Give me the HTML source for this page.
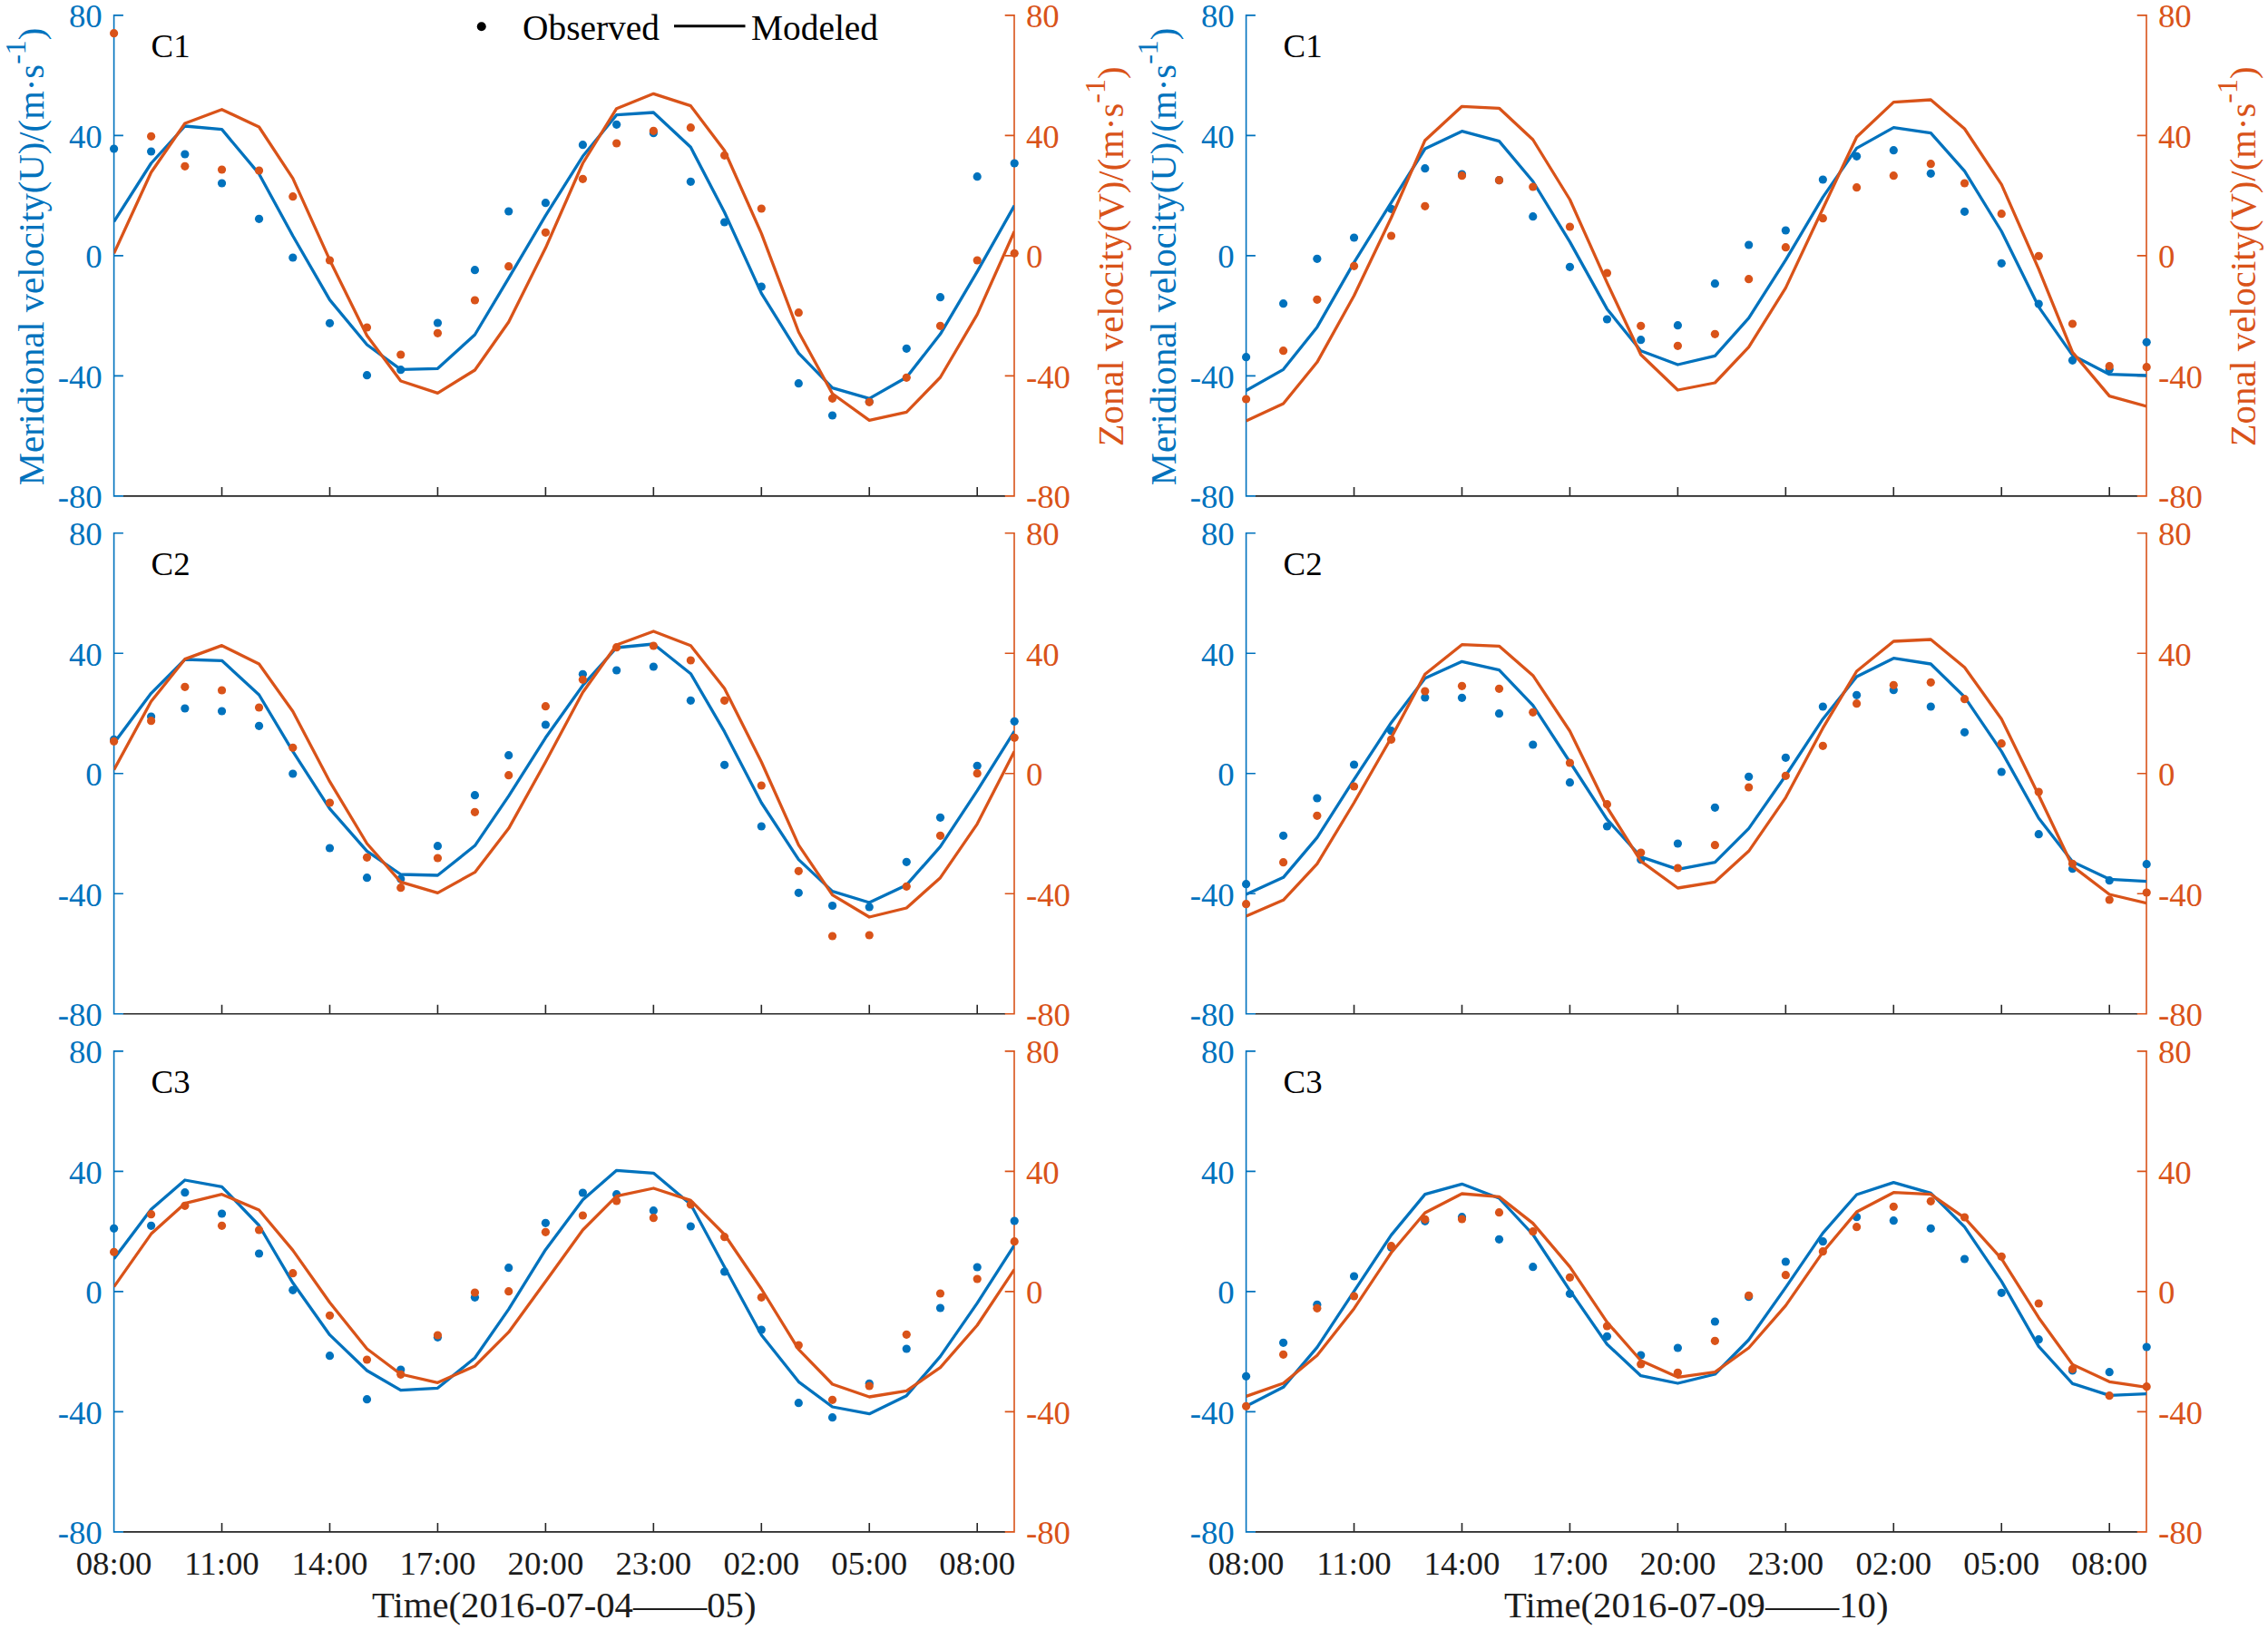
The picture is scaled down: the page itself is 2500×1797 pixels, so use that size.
<!DOCTYPE html>
<html lang="en"><head><meta charset="utf-8"><title>Observed and modeled tidal current velocity</title>
<style>html,body{margin:0;padding:0;background:#fff}body{width:2500px;height:1797px;overflow:hidden}svg{display:block}
text{font-family:"Liberation Serif",serif}
.t{font-size:36.8px}.l{font-size:40.7px}.g{font-size:39.4px}
.b{fill:#0072BD}.o{fill:#D95319}.k{fill:#000}.d{fill:#1c1c1c}
.ax{fill:none;stroke-width:1.6}.ln{fill:none;stroke-width:3.3;stroke-linejoin:round}
</style></head><body>
<svg width="2500" height="1797" viewBox="0 0 2500 1797">
<rect width="2500" height="1797" fill="#fff"/>
<g>
<path class="ax" stroke="#262626" d="M135.6 546.9H1108M244.55 547.7v-10.8M363.5 547.7v-10.8M482.45 547.7v-10.8M601.4 547.7v-10.8M720.35 547.7v-10.8M839.3 547.7v-10.8M958.25 547.7v-10.8M1077.2 547.7v-10.8"/>
<path class="ax" stroke="#0072BD" d="M125.6 16.1V547.7M125.6 16.9h10.3M125.6 149.4h10.3M125.6 281.9h10.3M125.6 414.4h10.3M125.6 546.9h10.3"/>
<path class="ax" stroke="#D95319" d="M1118 16.1V547.7M1118 16.9h-10.3M1118 149.4h-10.3M1118 281.9h-10.3M1118 414.4h-10.3M1118 546.9h-10.3"/>
<clipPath id="c00"><rect x="125.6" y="16.9" width="992.4" height="530"/></clipPath>
<g class="b"><circle cx="125.6" cy="164" r="4.6"/><circle cx="166.6" cy="167" r="4.6"/><circle cx="203.85" cy="170" r="4.6"/><circle cx="244.55" cy="202" r="4.6"/><circle cx="285.55" cy="241.33" r="4.6"/><circle cx="322.8" cy="284" r="4.6"/><circle cx="363.5" cy="356.33" r="4.6"/><circle cx="404.5" cy="413.67" r="4.6"/><circle cx="441.75" cy="407.67" r="4.6"/><circle cx="482.45" cy="356" r="4.6"/><circle cx="523.45" cy="297.67" r="4.6"/><circle cx="560.7" cy="233" r="4.6"/><circle cx="601.4" cy="223.67" r="4.6"/><circle cx="642.4" cy="159.67" r="4.6"/><circle cx="679.65" cy="137.33" r="4.6"/><circle cx="720.35" cy="146.67" r="4.6"/><circle cx="761.35" cy="200.33" r="4.6"/><circle cx="798.6" cy="245" r="4.6"/><circle cx="839.3" cy="316" r="4.6"/><circle cx="880.3" cy="422.67" r="4.6"/><circle cx="917.55" cy="458" r="4.6"/><circle cx="958.25" cy="442.67" r="4.6"/><circle cx="999.25" cy="384.33" r="4.6"/><circle cx="1036.5" cy="327.67" r="4.6"/><circle cx="1077.2" cy="194.67" r="4.6"/><circle cx="1118.2" cy="180" r="4.6"/></g>
<polyline class="ln" clip-path="url(#c00)" stroke="#0072BD" points="125.6,244.33 166.6,180 203.85,139 244.55,142.67 285.55,191.67 322.8,260 363.5,330.67 404.5,380 441.75,407.33 482.45,406.33 523.45,369 560.7,306.67 601.4,237.67 642.4,172.33 679.65,126.67 720.35,124 761.35,162.33 798.6,234 839.3,323.33 880.3,389.33 917.55,427.67 958.25,439.33 999.25,416 1036.5,368.33 1077.2,299.33 1118.2,226.67"/>
<g class="o"><circle cx="125.6" cy="36.67" r="4.6"/><circle cx="166.6" cy="150.33" r="4.6"/><circle cx="203.85" cy="183.33" r="4.6"/><circle cx="244.55" cy="187" r="4.6"/><circle cx="285.55" cy="188" r="4.6"/><circle cx="322.8" cy="216.67" r="4.6"/><circle cx="363.5" cy="287" r="4.6"/><circle cx="404.5" cy="361" r="4.6"/><circle cx="441.75" cy="391" r="4.6"/><circle cx="482.45" cy="367.33" r="4.6"/><circle cx="523.45" cy="331" r="4.6"/><circle cx="560.7" cy="293.67" r="4.6"/><circle cx="601.4" cy="256.33" r="4.6"/><circle cx="642.4" cy="197.33" r="4.6"/><circle cx="679.65" cy="158" r="4.6"/><circle cx="720.35" cy="144.33" r="4.6"/><circle cx="761.35" cy="140.67" r="4.6"/><circle cx="798.6" cy="171.33" r="4.6"/><circle cx="839.3" cy="230" r="4.6"/><circle cx="880.3" cy="344.67" r="4.6"/><circle cx="917.55" cy="439.33" r="4.6"/><circle cx="958.25" cy="443.33" r="4.6"/><circle cx="999.25" cy="416.33" r="4.6"/><circle cx="1036.5" cy="359.33" r="4.6"/><circle cx="1077.2" cy="287" r="4.6"/><circle cx="1118.2" cy="279.33" r="4.6"/></g>
<polyline class="ln" clip-path="url(#c00)" stroke="#D95319" points="125.6,279.33 166.6,190 203.85,136 244.55,120.67 285.55,140 322.8,196.67 363.5,286.67 404.5,370 441.75,420 482.45,433.33 523.45,408 560.7,355 601.4,273.33 642.4,180 679.65,119.67 720.35,103.33 761.35,116.67 798.6,166 839.3,257.33 880.3,366 917.55,434 958.25,463.33 999.25,454.33 1036.5,416 1077.2,346.67 1118.2,255"/>
<text class="t b" text-anchor="end" x="112.7" y="30.3">80</text>
<text class="t o" x="1130.9" y="30.3">80</text>
<text class="t b" text-anchor="end" x="112.7" y="162.8">40</text>
<text class="t o" x="1130.9" y="162.8">40</text>
<text class="t b" text-anchor="end" x="112.7" y="295.3">0</text>
<text class="t o" x="1130.9" y="295.3">0</text>
<text class="t b" text-anchor="end" x="112.7" y="427.8">-40</text>
<text class="t o" x="1130.9" y="427.8">-40</text>
<text class="t b" text-anchor="end" x="112.7" y="560.3">-80</text>
<text class="t o" x="1130.9" y="560.3">-80</text>
<text class="t k" x="166.6" y="63.4">C1</text>
<text class="l b" text-anchor="middle" transform="translate(48 282.9) rotate(-90)">Meridional velocity(U)/(m·s<tspan dy="-20.5" font-size="32">-1</tspan><tspan dy="20.5">)</tspan></text>
<text class="l o" text-anchor="middle" transform="translate(1238.3 282.9) rotate(-90)">Zonal velocity(V)/(m·s<tspan dy="-20.5" font-size="32">-1</tspan><tspan dy="20.5">)</tspan></text>
</g>
<g>
<path class="ax" stroke="#262626" d="M1383.6 546.9H2356M1492.55 547.7v-10.8M1611.5 547.7v-10.8M1730.45 547.7v-10.8M1849.4 547.7v-10.8M1968.35 547.7v-10.8M2087.3 547.7v-10.8M2206.25 547.7v-10.8M2325.2 547.7v-10.8"/>
<path class="ax" stroke="#0072BD" d="M1373.6 16.1V547.7M1373.6 16.9h10.3M1373.6 149.4h10.3M1373.6 281.9h10.3M1373.6 414.4h10.3M1373.6 546.9h10.3"/>
<path class="ax" stroke="#D95319" d="M2366 16.1V547.7M2366 16.9h-10.3M2366 149.4h-10.3M2366 281.9h-10.3M2366 414.4h-10.3M2366 546.9h-10.3"/>
<clipPath id="c01"><rect x="1373.6" y="16.9" width="992.4" height="530"/></clipPath>
<g class="b"><circle cx="1373.6" cy="393.67" r="4.6"/><circle cx="1414.6" cy="334.67" r="4.6"/><circle cx="1451.85" cy="285.33" r="4.6"/><circle cx="1492.55" cy="262" r="4.6"/><circle cx="1533.55" cy="230.33" r="4.6"/><circle cx="1570.8" cy="185.67" r="4.6"/><circle cx="1611.5" cy="192" r="4.6"/><circle cx="1652.5" cy="198.67" r="4.6"/><circle cx="1689.75" cy="238.67" r="4.6"/><circle cx="1730.45" cy="294.33" r="4.6"/><circle cx="1771.45" cy="352" r="4.6"/><circle cx="1808.7" cy="374.67" r="4.6"/><circle cx="1849.4" cy="358.67" r="4.6"/><circle cx="1890.4" cy="312.67" r="4.6"/><circle cx="1927.65" cy="270" r="4.6"/><circle cx="1968.35" cy="254" r="4.6"/><circle cx="2009.35" cy="198" r="4.6"/><circle cx="2046.6" cy="172.33" r="4.6"/><circle cx="2087.3" cy="165.67" r="4.6"/><circle cx="2128.3" cy="191.33" r="4.6"/><circle cx="2165.55" cy="233.33" r="4.6"/><circle cx="2206.25" cy="290.33" r="4.6"/><circle cx="2247.25" cy="335" r="4.6"/><circle cx="2284.5" cy="397.33" r="4.6"/><circle cx="2325.2" cy="407.33" r="4.6"/><circle cx="2366.2" cy="377.33" r="4.6"/></g>
<polyline class="ln" clip-path="url(#c01)" stroke="#0072BD" points="1373.6,430.67 1414.6,407.33 1451.85,360.67 1492.55,289.33 1533.55,223.33 1570.8,164 1611.5,144.67 1652.5,155.67 1689.75,200 1730.45,266.67 1771.45,340.67 1808.7,386.67 1849.4,402 1890.4,392.33 1927.65,350.67 1968.35,286.67 2009.35,217.33 2046.6,163.33 2087.3,140.67 2128.3,146.67 2165.55,188.67 2206.25,255 2247.25,338.33 2284.5,391.67 2325.2,412.67 2366.2,414"/>
<g class="o"><circle cx="1373.6" cy="440" r="4.6"/><circle cx="1414.6" cy="386.67" r="4.6"/><circle cx="1451.85" cy="330.33" r="4.6"/><circle cx="1492.55" cy="293.33" r="4.6"/><circle cx="1533.55" cy="260" r="4.6"/><circle cx="1570.8" cy="227.33" r="4.6"/><circle cx="1611.5" cy="193.67" r="4.6"/><circle cx="1652.5" cy="198.67" r="4.6"/><circle cx="1689.75" cy="206" r="4.6"/><circle cx="1730.45" cy="250" r="4.6"/><circle cx="1771.45" cy="301" r="4.6"/><circle cx="1808.7" cy="359.33" r="4.6"/><circle cx="1849.4" cy="381.33" r="4.6"/><circle cx="1890.4" cy="368.33" r="4.6"/><circle cx="1927.65" cy="307.67" r="4.6"/><circle cx="1968.35" cy="272.67" r="4.6"/><circle cx="2009.35" cy="240.67" r="4.6"/><circle cx="2046.6" cy="206.67" r="4.6"/><circle cx="2087.3" cy="193.67" r="4.6"/><circle cx="2128.3" cy="180.67" r="4.6"/><circle cx="2165.55" cy="202" r="4.6"/><circle cx="2206.25" cy="235.67" r="4.6"/><circle cx="2247.25" cy="282.33" r="4.6"/><circle cx="2284.5" cy="357" r="4.6"/><circle cx="2325.2" cy="403.67" r="4.6"/><circle cx="2366.2" cy="404.67" r="4.6"/></g>
<polyline class="ln" clip-path="url(#c01)" stroke="#D95319" points="1373.6,464 1414.6,445 1451.85,399.33 1492.55,326 1533.55,240 1570.8,154.67 1611.5,117.33 1652.5,119.33 1689.75,154 1730.45,220 1771.45,311.67 1808.7,391 1849.4,430 1890.4,422 1927.65,382.67 1968.35,317.33 2009.35,230 2046.6,151 2087.3,112.67 2128.3,110 2165.55,142 2206.25,203.33 2247.25,296.67 2284.5,388.33 2325.2,436.67 2366.2,448"/>
<text class="t b" text-anchor="end" x="1360.7" y="30.3">80</text>
<text class="t o" x="2378.9" y="30.3">80</text>
<text class="t b" text-anchor="end" x="1360.7" y="162.8">40</text>
<text class="t o" x="2378.9" y="162.8">40</text>
<text class="t b" text-anchor="end" x="1360.7" y="295.3">0</text>
<text class="t o" x="2378.9" y="295.3">0</text>
<text class="t b" text-anchor="end" x="1360.7" y="427.8">-40</text>
<text class="t o" x="2378.9" y="427.8">-40</text>
<text class="t b" text-anchor="end" x="1360.7" y="560.3">-80</text>
<text class="t o" x="2378.9" y="560.3">-80</text>
<text class="t k" x="1414.6" y="63.4">C1</text>
<text class="l b" text-anchor="middle" transform="translate(1296 282.9) rotate(-90)">Meridional velocity(U)/(m·s<tspan dy="-20.5" font-size="32">-1</tspan><tspan dy="20.5">)</tspan></text>
<text class="l o" text-anchor="middle" transform="translate(2486.3 282.9) rotate(-90)">Zonal velocity(V)/(m·s<tspan dy="-20.5" font-size="32">-1</tspan><tspan dy="20.5">)</tspan></text>
</g>
<g>
<path class="ax" stroke="#262626" d="M135.6 1117.75H1108M244.55 1118.55v-10.8M363.5 1118.55v-10.8M482.45 1118.55v-10.8M601.4 1118.55v-10.8M720.35 1118.55v-10.8M839.3 1118.55v-10.8M958.25 1118.55v-10.8M1077.2 1118.55v-10.8"/>
<path class="ax" stroke="#0072BD" d="M125.6 586.95V1118.55M125.6 587.75h10.3M125.6 720.25h10.3M125.6 852.75h10.3M125.6 985.25h10.3M125.6 1117.75h10.3"/>
<path class="ax" stroke="#D95319" d="M1118 586.95V1118.55M1118 587.75h-10.3M1118 720.25h-10.3M1118 852.75h-10.3M1118 985.25h-10.3M1118 1117.75h-10.3"/>
<clipPath id="c10"><rect x="125.6" y="587.75" width="992.4" height="530"/></clipPath>
<g class="b"><circle cx="125.6" cy="815.33" r="4.6"/><circle cx="166.6" cy="790" r="4.6"/><circle cx="203.85" cy="781" r="4.6"/><circle cx="244.55" cy="784" r="4.6"/><circle cx="285.55" cy="800.33" r="4.6"/><circle cx="322.8" cy="853" r="4.6"/><circle cx="363.5" cy="935" r="4.6"/><circle cx="404.5" cy="967.67" r="4.6"/><circle cx="441.75" cy="969" r="4.6"/><circle cx="482.45" cy="932.67" r="4.6"/><circle cx="523.45" cy="876.67" r="4.6"/><circle cx="560.7" cy="832.67" r="4.6"/><circle cx="601.4" cy="799" r="4.6"/><circle cx="642.4" cy="743.33" r="4.6"/><circle cx="679.65" cy="739" r="4.6"/><circle cx="720.35" cy="735" r="4.6"/><circle cx="761.35" cy="772.33" r="4.6"/><circle cx="798.6" cy="843.33" r="4.6"/><circle cx="839.3" cy="911" r="4.6"/><circle cx="880.3" cy="984.33" r="4.6"/><circle cx="917.55" cy="998.5" r="4.6"/><circle cx="958.25" cy="1000" r="4.6"/><circle cx="999.25" cy="950.33" r="4.6"/><circle cx="1036.5" cy="901.33" r="4.6"/><circle cx="1077.2" cy="844.33" r="4.6"/><circle cx="1118.2" cy="795.33" r="4.6"/></g>
<polyline class="ln" clip-path="url(#c10)" stroke="#0072BD" points="125.6,819.33 166.6,764.33 203.85,727 244.55,728.33 285.55,766 322.8,828.33 363.5,891.67 404.5,938.33 441.75,964 482.45,965 523.45,932.33 560.7,877.67 601.4,813.33 642.4,755.67 679.65,714 720.35,710 761.35,742.67 798.6,806.67 839.3,885 880.3,947.67 917.55,982.67 958.25,995 999.25,975.67 1036.5,933.33 1077.2,871.67 1118.2,806"/>
<g class="o"><circle cx="125.6" cy="817.33" r="4.6"/><circle cx="166.6" cy="794.67" r="4.6"/><circle cx="203.85" cy="757.33" r="4.6"/><circle cx="244.55" cy="761" r="4.6"/><circle cx="285.55" cy="780" r="4.6"/><circle cx="322.8" cy="824.33" r="4.6"/><circle cx="363.5" cy="885" r="4.6"/><circle cx="404.5" cy="945.33" r="4.6"/><circle cx="441.75" cy="978.67" r="4.6"/><circle cx="482.45" cy="946" r="4.6"/><circle cx="523.45" cy="895.33" r="4.6"/><circle cx="560.7" cy="854.67" r="4.6"/><circle cx="601.4" cy="778.67" r="4.6"/><circle cx="642.4" cy="749.33" r="4.6"/><circle cx="679.65" cy="713.67" r="4.6"/><circle cx="720.35" cy="712" r="4.6"/><circle cx="761.35" cy="728" r="4.6"/><circle cx="798.6" cy="772.33" r="4.6"/><circle cx="839.3" cy="866" r="4.6"/><circle cx="880.3" cy="960.33" r="4.6"/><circle cx="917.55" cy="1032" r="4.6"/><circle cx="958.25" cy="1031" r="4.6"/><circle cx="999.25" cy="977.33" r="4.6"/><circle cx="1036.5" cy="921.33" r="4.6"/><circle cx="1077.2" cy="852.67" r="4.6"/><circle cx="1118.2" cy="813.33" r="4.6"/></g>
<polyline class="ln" clip-path="url(#c10)" stroke="#D95319" points="125.6,848.67 166.6,773.33 203.85,726.67 244.55,711.67 285.55,732 322.8,784.33 363.5,861.67 404.5,930 441.75,972.33 482.45,984.33 523.45,961.67 560.7,913.33 601.4,840 642.4,763.33 679.65,711 720.35,696 761.35,711.67 798.6,759 839.3,840 880.3,931.67 917.55,986.67 958.25,1011 999.25,1001 1036.5,967.67 1077.2,908.33 1118.2,828.33"/>
<text class="t b" text-anchor="end" x="112.7" y="601.15">80</text>
<text class="t o" x="1130.9" y="601.15">80</text>
<text class="t b" text-anchor="end" x="112.7" y="733.65">40</text>
<text class="t o" x="1130.9" y="733.65">40</text>
<text class="t b" text-anchor="end" x="112.7" y="866.15">0</text>
<text class="t o" x="1130.9" y="866.15">0</text>
<text class="t b" text-anchor="end" x="112.7" y="998.65">-40</text>
<text class="t o" x="1130.9" y="998.65">-40</text>
<text class="t b" text-anchor="end" x="112.7" y="1131.15">-80</text>
<text class="t o" x="1130.9" y="1131.15">-80</text>
<text class="t k" x="166.6" y="634.25">C2</text>
</g>
<g>
<path class="ax" stroke="#262626" d="M1383.6 1117.75H2356M1492.55 1118.55v-10.8M1611.5 1118.55v-10.8M1730.45 1118.55v-10.8M1849.4 1118.55v-10.8M1968.35 1118.55v-10.8M2087.3 1118.55v-10.8M2206.25 1118.55v-10.8M2325.2 1118.55v-10.8"/>
<path class="ax" stroke="#0072BD" d="M1373.6 586.95V1118.55M1373.6 587.75h10.3M1373.6 720.25h10.3M1373.6 852.75h10.3M1373.6 985.25h10.3M1373.6 1117.75h10.3"/>
<path class="ax" stroke="#D95319" d="M2366 586.95V1118.55M2366 587.75h-10.3M2366 720.25h-10.3M2366 852.75h-10.3M2366 985.25h-10.3M2366 1117.75h-10.3"/>
<clipPath id="c11"><rect x="1373.6" y="587.75" width="992.4" height="530"/></clipPath>
<g class="b"><circle cx="1373.6" cy="974.67" r="4.6"/><circle cx="1414.6" cy="921.33" r="4.6"/><circle cx="1451.85" cy="880" r="4.6"/><circle cx="1492.55" cy="843" r="4.6"/><circle cx="1533.55" cy="805.67" r="4.6"/><circle cx="1570.8" cy="769" r="4.6"/><circle cx="1611.5" cy="769.33" r="4.6"/><circle cx="1652.5" cy="786.67" r="4.6"/><circle cx="1689.75" cy="821" r="4.6"/><circle cx="1730.45" cy="862.67" r="4.6"/><circle cx="1771.45" cy="911" r="4.6"/><circle cx="1808.7" cy="947.67" r="4.6"/><circle cx="1849.4" cy="930" r="4.6"/><circle cx="1890.4" cy="890.33" r="4.6"/><circle cx="1927.65" cy="856.33" r="4.6"/><circle cx="1968.35" cy="835.33" r="4.6"/><circle cx="2009.35" cy="779" r="4.6"/><circle cx="2046.6" cy="766.33" r="4.6"/><circle cx="2087.3" cy="760.67" r="4.6"/><circle cx="2128.3" cy="779" r="4.6"/><circle cx="2165.55" cy="807.33" r="4.6"/><circle cx="2206.25" cy="851" r="4.6"/><circle cx="2247.25" cy="919.67" r="4.6"/><circle cx="2284.5" cy="957.67" r="4.6"/><circle cx="2325.2" cy="970.67" r="4.6"/><circle cx="2366.2" cy="952.67" r="4.6"/></g>
<polyline class="ln" clip-path="url(#c11)" stroke="#0072BD" points="1373.6,986 1414.6,967.33 1451.85,923.33 1492.55,859.33 1533.55,796.67 1570.8,747.67 1611.5,729.33 1652.5,738.67 1689.75,777.67 1730.45,840 1771.45,903.33 1808.7,944.67 1849.4,958.33 1890.4,950.67 1927.65,913.33 1968.35,855 2009.35,792.67 2046.6,746 2087.3,725.67 2128.3,732 2165.55,768.33 2206.25,828.33 2247.25,902 2284.5,950 2325.2,969.33 2366.2,971.67"/>
<g class="o"><circle cx="1373.6" cy="996.67" r="4.6"/><circle cx="1414.6" cy="950.67" r="4.6"/><circle cx="1451.85" cy="899.33" r="4.6"/><circle cx="1492.55" cy="867" r="4.6"/><circle cx="1533.55" cy="815.33" r="4.6"/><circle cx="1570.8" cy="762" r="4.6"/><circle cx="1611.5" cy="756.33" r="4.6"/><circle cx="1652.5" cy="759.33" r="4.6"/><circle cx="1689.75" cy="785.33" r="4.6"/><circle cx="1730.45" cy="841" r="4.6"/><circle cx="1771.45" cy="886.67" r="4.6"/><circle cx="1808.7" cy="940" r="4.6"/><circle cx="1849.4" cy="957" r="4.6"/><circle cx="1890.4" cy="931.67" r="4.6"/><circle cx="1927.65" cy="868" r="4.6"/><circle cx="1968.35" cy="855.33" r="4.6"/><circle cx="2009.35" cy="822.33" r="4.6"/><circle cx="2046.6" cy="775.67" r="4.6"/><circle cx="2087.3" cy="755.33" r="4.6"/><circle cx="2128.3" cy="752.33" r="4.6"/><circle cx="2165.55" cy="770.67" r="4.6"/><circle cx="2206.25" cy="819.67" r="4.6"/><circle cx="2247.25" cy="873" r="4.6"/><circle cx="2284.5" cy="952.33" r="4.6"/><circle cx="2325.2" cy="992" r="4.6"/><circle cx="2366.2" cy="984" r="4.6"/></g>
<polyline class="ln" clip-path="url(#c11)" stroke="#D95319" points="1373.6,1010 1414.6,992.33 1451.85,952.33 1492.55,885 1533.55,813.33 1570.8,743.33 1611.5,710.67 1652.5,712.33 1689.75,744.67 1730.45,806 1771.45,890 1808.7,949.33 1849.4,979 1890.4,972.33 1927.65,938.33 1968.35,879.33 2009.35,802.67 2046.6,740 2087.3,707 2128.3,705 2165.55,735.67 2206.25,792.67 2247.25,876.67 2284.5,955 2325.2,986 2366.2,995.67"/>
<text class="t b" text-anchor="end" x="1360.7" y="601.15">80</text>
<text class="t o" x="2378.9" y="601.15">80</text>
<text class="t b" text-anchor="end" x="1360.7" y="733.65">40</text>
<text class="t o" x="2378.9" y="733.65">40</text>
<text class="t b" text-anchor="end" x="1360.7" y="866.15">0</text>
<text class="t o" x="2378.9" y="866.15">0</text>
<text class="t b" text-anchor="end" x="1360.7" y="998.65">-40</text>
<text class="t o" x="2378.9" y="998.65">-40</text>
<text class="t b" text-anchor="end" x="1360.7" y="1131.15">-80</text>
<text class="t o" x="2378.9" y="1131.15">-80</text>
<text class="t k" x="1414.6" y="634.25">C2</text>
</g>
<g>
<path class="ax" stroke="#262626" d="M135.6 1688.9H1108M244.55 1689.7v-10.8M363.5 1689.7v-10.8M482.45 1689.7v-10.8M601.4 1689.7v-10.8M720.35 1689.7v-10.8M839.3 1689.7v-10.8M958.25 1689.7v-10.8M1077.2 1689.7v-10.8"/>
<path class="ax" stroke="#0072BD" d="M125.6 1158.1V1689.7M125.6 1158.9h10.3M125.6 1291.4h10.3M125.6 1423.9h10.3M125.6 1556.4h10.3M125.6 1688.9h10.3"/>
<path class="ax" stroke="#D95319" d="M1118 1158.1V1689.7M1118 1158.9h-10.3M1118 1291.4h-10.3M1118 1423.9h-10.3M1118 1556.4h-10.3M1118 1688.9h-10.3"/>
<clipPath id="c20"><rect x="125.6" y="1158.9" width="992.4" height="530"/></clipPath>
<g class="b"><circle cx="125.6" cy="1354.33" r="4.6"/><circle cx="166.6" cy="1351.33" r="4.6"/><circle cx="203.85" cy="1314.67" r="4.6"/><circle cx="244.55" cy="1338" r="4.6"/><circle cx="285.55" cy="1382" r="4.6"/><circle cx="322.8" cy="1422.33" r="4.6"/><circle cx="363.5" cy="1494.67" r="4.6"/><circle cx="404.5" cy="1542.67" r="4.6"/><circle cx="441.75" cy="1510" r="4.6"/><circle cx="482.45" cy="1474.33" r="4.6"/><circle cx="523.45" cy="1430.33" r="4.6"/><circle cx="560.7" cy="1397.67" r="4.6"/><circle cx="601.4" cy="1348.33" r="4.6"/><circle cx="642.4" cy="1315" r="4.6"/><circle cx="679.65" cy="1316.67" r="4.6"/><circle cx="720.35" cy="1334.67" r="4.6"/><circle cx="761.35" cy="1352" r="4.6"/><circle cx="798.6" cy="1402" r="4.6"/><circle cx="839.3" cy="1466" r="4.6"/><circle cx="880.3" cy="1546.67" r="4.6"/><circle cx="917.55" cy="1562.67" r="4.6"/><circle cx="958.25" cy="1525.33" r="4.6"/><circle cx="999.25" cy="1487" r="4.6"/><circle cx="1036.5" cy="1442" r="4.6"/><circle cx="1077.2" cy="1397" r="4.6"/><circle cx="1118.2" cy="1346" r="4.6"/></g>
<polyline class="ln" clip-path="url(#c20)" stroke="#0072BD" points="125.6,1387.67 166.6,1333.33 203.85,1301 244.55,1308.33 285.55,1351 322.8,1414.33 363.5,1471.67 404.5,1511 441.75,1532.67 482.45,1530.33 523.45,1497 560.7,1443.33 601.4,1377.67 642.4,1322.67 679.65,1290.33 720.35,1293.33 761.35,1327.67 798.6,1396.67 839.3,1471.67 880.3,1523.33 917.55,1551 958.25,1558.67 999.25,1538.67 1036.5,1495.33 1077.2,1436.67 1118.2,1372.67"/>
<g class="o"><circle cx="125.6" cy="1380.33" r="4.6"/><circle cx="166.6" cy="1338.67" r="4.6"/><circle cx="203.85" cy="1329.33" r="4.6"/><circle cx="244.55" cy="1351.33" r="4.6"/><circle cx="285.55" cy="1356" r="4.6"/><circle cx="322.8" cy="1403.67" r="4.6"/><circle cx="363.5" cy="1450.33" r="4.6"/><circle cx="404.5" cy="1499" r="4.6"/><circle cx="441.75" cy="1515.33" r="4.6"/><circle cx="482.45" cy="1472" r="4.6"/><circle cx="523.45" cy="1425" r="4.6"/><circle cx="560.7" cy="1423.67" r="4.6"/><circle cx="601.4" cy="1358.33" r="4.6"/><circle cx="642.4" cy="1340" r="4.6"/><circle cx="679.65" cy="1324" r="4.6"/><circle cx="720.35" cy="1342.67" r="4.6"/><circle cx="761.35" cy="1328" r="4.6"/><circle cx="798.6" cy="1363.67" r="4.6"/><circle cx="839.3" cy="1430.33" r="4.6"/><circle cx="880.3" cy="1483" r="4.6"/><circle cx="917.55" cy="1543.33" r="4.6"/><circle cx="958.25" cy="1528" r="4.6"/><circle cx="999.25" cy="1471.33" r="4.6"/><circle cx="1036.5" cy="1426" r="4.6"/><circle cx="1077.2" cy="1410" r="4.6"/><circle cx="1118.2" cy="1368.67" r="4.6"/></g>
<polyline class="ln" clip-path="url(#c20)" stroke="#D95319" points="125.6,1418.67 166.6,1360.33 203.85,1326.67 244.55,1316.67 285.55,1334 322.8,1378.33 363.5,1436 404.5,1487 441.75,1515 482.45,1524.33 523.45,1506 560.7,1468.67 601.4,1412.67 642.4,1356 679.65,1318.67 720.35,1310 761.35,1323.33 798.6,1361 839.3,1421 880.3,1487.67 917.55,1526 958.25,1540 999.25,1533.33 1036.5,1507.67 1077.2,1461 1118.2,1399.33"/>
<text class="t b" text-anchor="end" x="112.7" y="1172.3">80</text>
<text class="t o" x="1130.9" y="1172.3">80</text>
<text class="t b" text-anchor="end" x="112.7" y="1304.8">40</text>
<text class="t o" x="1130.9" y="1304.8">40</text>
<text class="t b" text-anchor="end" x="112.7" y="1437.3">0</text>
<text class="t o" x="1130.9" y="1437.3">0</text>
<text class="t b" text-anchor="end" x="112.7" y="1569.8">-40</text>
<text class="t o" x="1130.9" y="1569.8">-40</text>
<text class="t b" text-anchor="end" x="112.7" y="1702.3">-80</text>
<text class="t o" x="1130.9" y="1702.3">-80</text>
<text class="t k" x="166.6" y="1205.4">C3</text>
<text class="t d" text-anchor="middle" x="125.6" y="1735.5">08:00</text>
<text class="t d" text-anchor="middle" x="244.55" y="1735.5">11:00</text>
<text class="t d" text-anchor="middle" x="363.5" y="1735.5">14:00</text>
<text class="t d" text-anchor="middle" x="482.45" y="1735.5">17:00</text>
<text class="t d" text-anchor="middle" x="601.4" y="1735.5">20:00</text>
<text class="t d" text-anchor="middle" x="720.35" y="1735.5">23:00</text>
<text class="t d" text-anchor="middle" x="839.3" y="1735.5">02:00</text>
<text class="t d" text-anchor="middle" x="958.25" y="1735.5">05:00</text>
<text class="t d" text-anchor="middle" x="1077.2" y="1735.5">08:00</text>
<text class="l d" text-anchor="middle" x="621.8" y="1782.5">Time(2016-07-04——05)</text>
</g>
<g>
<path class="ax" stroke="#262626" d="M1383.6 1688.9H2356M1492.55 1689.7v-10.8M1611.5 1689.7v-10.8M1730.45 1689.7v-10.8M1849.4 1689.7v-10.8M1968.35 1689.7v-10.8M2087.3 1689.7v-10.8M2206.25 1689.7v-10.8M2325.2 1689.7v-10.8"/>
<path class="ax" stroke="#0072BD" d="M1373.6 1158.1V1689.7M1373.6 1158.9h10.3M1373.6 1291.4h10.3M1373.6 1423.9h10.3M1373.6 1556.4h10.3M1373.6 1688.9h10.3"/>
<path class="ax" stroke="#D95319" d="M2366 1158.1V1689.7M2366 1158.9h-10.3M2366 1291.4h-10.3M2366 1423.9h-10.3M2366 1556.4h-10.3M2366 1688.9h-10.3"/>
<clipPath id="c21"><rect x="1373.6" y="1158.9" width="992.4" height="530"/></clipPath>
<g class="b"><circle cx="1373.6" cy="1517.33" r="4.6"/><circle cx="1414.6" cy="1480.33" r="4.6"/><circle cx="1451.85" cy="1438.33" r="4.6"/><circle cx="1492.55" cy="1407" r="4.6"/><circle cx="1533.55" cy="1375.33" r="4.6"/><circle cx="1570.8" cy="1346.33" r="4.6"/><circle cx="1611.5" cy="1341.67" r="4.6"/><circle cx="1652.5" cy="1366.33" r="4.6"/><circle cx="1689.75" cy="1396.67" r="4.6"/><circle cx="1730.45" cy="1426.33" r="4.6"/><circle cx="1771.45" cy="1473.33" r="4.6"/><circle cx="1808.7" cy="1494" r="4.6"/><circle cx="1849.4" cy="1486" r="4.6"/><circle cx="1890.4" cy="1457" r="4.6"/><circle cx="1927.65" cy="1429.67" r="4.6"/><circle cx="1968.35" cy="1391" r="4.6"/><circle cx="2009.35" cy="1368.67" r="4.6"/><circle cx="2046.6" cy="1341.67" r="4.6"/><circle cx="2087.3" cy="1345.67" r="4.6"/><circle cx="2128.3" cy="1354.33" r="4.6"/><circle cx="2165.55" cy="1388" r="4.6"/><circle cx="2206.25" cy="1425.33" r="4.6"/><circle cx="2247.25" cy="1476.67" r="4.6"/><circle cx="2284.5" cy="1511" r="4.6"/><circle cx="2325.2" cy="1512.67" r="4.6"/><circle cx="2366.2" cy="1485" r="4.6"/></g>
<polyline class="ln" clip-path="url(#c21)" stroke="#0072BD" points="1373.6,1550.33 1414.6,1529.33 1451.85,1485.33 1492.55,1423.67 1533.55,1361.67 1570.8,1316.67 1611.5,1305.33 1652.5,1321 1689.75,1361 1730.45,1422.67 1771.45,1482 1808.7,1516.67 1849.4,1525 1890.4,1515 1927.65,1477 1968.35,1419.33 2009.35,1359.33 2046.6,1317 2087.3,1303.67 2128.3,1315.33 2165.55,1352.67 2206.25,1412.67 2247.25,1484.33 2284.5,1525.33 2325.2,1538.33 2366.2,1536.67"/>
<g class="o"><circle cx="1373.6" cy="1550.33" r="4.6"/><circle cx="1414.6" cy="1493.33" r="4.6"/><circle cx="1451.85" cy="1442.33" r="4.6"/><circle cx="1492.55" cy="1429" r="4.6"/><circle cx="1533.55" cy="1373.67" r="4.6"/><circle cx="1570.8" cy="1344.33" r="4.6"/><circle cx="1611.5" cy="1344" r="4.6"/><circle cx="1652.5" cy="1336.67" r="4.6"/><circle cx="1689.75" cy="1357.67" r="4.6"/><circle cx="1730.45" cy="1408.33" r="4.6"/><circle cx="1771.45" cy="1462" r="4.6"/><circle cx="1808.7" cy="1504" r="4.6"/><circle cx="1849.4" cy="1513.33" r="4.6"/><circle cx="1890.4" cy="1478.33" r="4.6"/><circle cx="1927.65" cy="1428.33" r="4.6"/><circle cx="1968.35" cy="1405.67" r="4.6"/><circle cx="2009.35" cy="1379.67" r="4.6"/><circle cx="2046.6" cy="1352.67" r="4.6"/><circle cx="2087.3" cy="1330.33" r="4.6"/><circle cx="2128.3" cy="1324.33" r="4.6"/><circle cx="2165.55" cy="1342" r="4.6"/><circle cx="2206.25" cy="1385.33" r="4.6"/><circle cx="2247.25" cy="1437" r="4.6"/><circle cx="2284.5" cy="1509.33" r="4.6"/><circle cx="2325.2" cy="1538.67" r="4.6"/><circle cx="2366.2" cy="1528.67" r="4.6"/></g>
<polyline class="ln" clip-path="url(#c21)" stroke="#D95319" points="1373.6,1539.33 1414.6,1525 1451.85,1494.33 1492.55,1442.67 1533.55,1381 1570.8,1337 1611.5,1316 1652.5,1319.33 1689.75,1348.67 1730.45,1396.67 1771.45,1457.67 1808.7,1500 1849.4,1518.33 1890.4,1512.67 1927.65,1486 1968.35,1439.33 2009.35,1380.33 2046.6,1336 2087.3,1314.67 2128.3,1316.67 2165.55,1342.67 2206.25,1387.67 2247.25,1452.67 2284.5,1504.33 2325.2,1523.33 2366.2,1529.33"/>
<text class="t b" text-anchor="end" x="1360.7" y="1172.3">80</text>
<text class="t o" x="2378.9" y="1172.3">80</text>
<text class="t b" text-anchor="end" x="1360.7" y="1304.8">40</text>
<text class="t o" x="2378.9" y="1304.8">40</text>
<text class="t b" text-anchor="end" x="1360.7" y="1437.3">0</text>
<text class="t o" x="2378.9" y="1437.3">0</text>
<text class="t b" text-anchor="end" x="1360.7" y="1569.8">-40</text>
<text class="t o" x="2378.9" y="1569.8">-40</text>
<text class="t b" text-anchor="end" x="1360.7" y="1702.3">-80</text>
<text class="t o" x="2378.9" y="1702.3">-80</text>
<text class="t k" x="1414.6" y="1205.4">C3</text>
<text class="t d" text-anchor="middle" x="1373.6" y="1735.5">08:00</text>
<text class="t d" text-anchor="middle" x="1492.55" y="1735.5">11:00</text>
<text class="t d" text-anchor="middle" x="1611.5" y="1735.5">14:00</text>
<text class="t d" text-anchor="middle" x="1730.45" y="1735.5">17:00</text>
<text class="t d" text-anchor="middle" x="1849.4" y="1735.5">20:00</text>
<text class="t d" text-anchor="middle" x="1968.35" y="1735.5">23:00</text>
<text class="t d" text-anchor="middle" x="2087.3" y="1735.5">02:00</text>
<text class="t d" text-anchor="middle" x="2206.25" y="1735.5">05:00</text>
<text class="t d" text-anchor="middle" x="2325.2" y="1735.5">08:00</text>
<text class="l d" text-anchor="middle" x="1869.8" y="1782.5">Time(2016-07-09——10)</text>
</g>
<g><circle cx="530.75" cy="29.2" r="5" fill="#000"/><text class="g k" x="576" y="43.7">Observed</text>
<path d="M743 28.8H821.5" stroke="#000" stroke-width="3" fill="none"/><text class="g k" x="828" y="43.7">Modeled</text></g>
</svg></body></html>
